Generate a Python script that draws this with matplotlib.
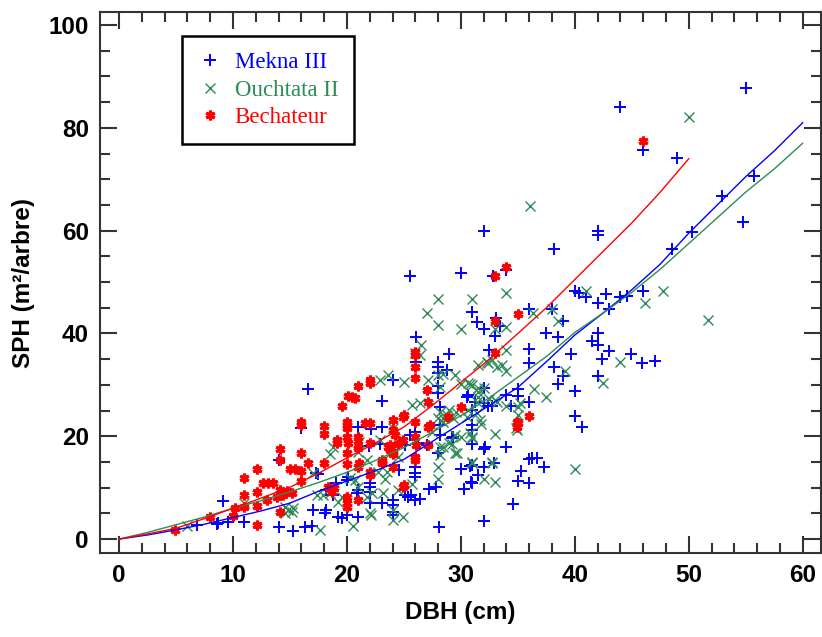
import matplotlib
matplotlib.use("Agg")
import matplotlib.pyplot as plt
from matplotlib.ticker import MultipleLocator

# ---- data (DBH cm, SPH m2/arbre) ----
mekna_dbh = [6.8, 8.6, 8.7, 9.1, 9.6, 11.0, 14.0, 14.0, 15.3, 16.3, 16.9, 16.0, 16.6, 17.0, 17.3,
             17.5, 18.1, 18.2, 18.2, 18.8, 19.0, 19.2, 19.6, 20.0, 20.0, 20.1, 20.9, 21.0, 21.0,
             21.0, 22.0, 22.0, 22.0, 22.0, 22.1, 21.9, 22.9, 23.1, 23.1, 23.1, 24.0, 24.0, 24.0,
             24.0, 24.0, 24.6, 25.1, 25.4, 25.6, 26.0, 26.4, 25.1, 25.5, 26.0, 26.2, 27.0, 26.0,
             26.0, 26.0, 25.5, 26.1, 26.1, 27.2, 27.8, 28.0, 28.1, 28.0, 28.0, 28.0, 28.0, 28.0,
             28.2, 28.2, 28.2, 28.8, 29.0, 29.2, 29.3, 30.0, 30.0, 30.3, 30.5, 30.6, 30.8, 30.9,
             31.0, 31.0, 31.0, 31.0, 31.0, 31.0, 31.0, 31.2, 31.4, 31.5, 32.0, 32.0, 32.0, 32.0,
             32.0, 32.0, 32.0, 32.1, 32.4, 32.5, 32.7, 32.8, 32.9, 33.0, 33.1, 33.4, 34.0, 34.0,
             34.0, 34.4, 34.6, 35.0, 35.0, 35.0, 35.3, 36.0, 36.0, 36.0, 36.0, 36.0, 36.0, 36.2,
             36.7, 37.3, 37.5, 38.2, 38.2, 38.5, 38.5, 39.0, 39.0, 39.7, 40.0, 40.0, 40.0, 40.4,
             40.6, 41.0, 41.5, 42.0, 42.0, 42.0, 42.0, 42.0, 42.0, 42.4, 42.7, 43.0, 43.0, 44.0,
             44.0, 44.6, 44.9, 45.9, 46.0, 46.0, 47.0, 48.5, 49.0, 50.3, 52.9, 54.8, 55.7, 55.0,
             38.0]
mekna_sph = [2.7, 2.9, 3.1, 7.4, 3.3, 3.3, 2.3, 15.4, 1.6, 2.3, 2.5, 21.6, 29.2, 5.6, 12.8,
             12.6, 5.0, 5.6, 9.5, 8.6, 10.9, 4.3, 4.1, 4.7, 11.5, 12.0, 8.9, 9.5, 21.8,
             4.3, 9.1, 10.1, 10.9, 7.0, 21.4, 18.1, 18.5, 7.0, 21.8, 26.8, 4.7, 5.3, 6.6,
             7.6, 31.0, 13.4, 8.6, 8.2, 8.6, 7.6, 7.8, 18.3, 20.2, 20.8, 18.7, 18.3, 12.0,
             12.8, 14.0, 51.2, 39.3, 34.4, 9.7, 10.1, 16.7, 2.3, 28.4, 29.8, 32.3, 33.5, 34.4,
             20.2, 22.2, 25.7, 32.8, 36.0, 19.6, 19.8, 13.6, 51.8, 9.7, 27.6, 28.0, 14.2, 11.1,
             10.9, 14.4, 18.5, 21.2, 22.2, 25.1, 44.2, 26.7, 42.3, 12.5, 3.5, 14.0, 17.5, 26.5,
             29.3, 40.8, 60.0, 17.9, 25.9, 36.8, 25.9, 51.2, 14.8, 39.5, 43.0, 41.4, 17.9, 28.1,
             52.3, 25.9, 6.8, 11.3, 27.8, 29.2, 13.2, 10.9, 15.6, 26.6, 34.3, 37.0, 44.7, 15.8,
             15.8, 14.0, 40.0, 33.5, 56.4, 30.2, 39.3, 31.7, 42.4, 36.0, 24.0, 28.8, 48.2, 47.9,
             21.8, 47.1, 38.5, 31.7, 37.7, 40.0, 45.9, 59.2, 59.9, 35.0, 47.7, 36.6, 44.7, 47.1,
             84.0, 47.3, 36.0, 34.2, 48.2, 75.7, 34.6, 56.4, 74.1, 59.7, 66.7, 61.7, 70.6, 87.7,
             44.7]

ouchtata_dbh = [6.0, 11.0, 14.6, 14.8, 15.3, 15.2, 14.6, 17.0, 17.4, 17.9, 17.6, 18.5, 18.8, 18.5,
                19.2, 19.6, 20.3, 20.7, 20.5, 21.0, 21.0, 21.1, 21.8, 21.8, 22.0, 22.1, 22.2, 22.7,
                22.9, 22.9, 23.2, 23.3, 23.5, 23.6, 23.8, 24.0, 24.0, 24.0, 24.5, 24.5, 24.9, 25.0,
                25.7, 25.7, 26.0, 26.4, 26.4, 26.5, 27.0, 27.1, 27.5, 28.0, 28.0, 28.0, 28.0, 28.0,
                28.0, 28.2, 28.2, 28.2, 28.2, 28.4, 28.4, 28.4, 28.4, 28.8, 29.0, 29.0, 29.2, 29.3,
                29.5, 29.5, 29.5, 29.6, 29.7, 30.0, 30.0, 30.0, 30.5, 30.6, 30.6, 30.8, 30.8, 31.0,
                31.0, 31.0, 31.0, 31.0, 31.0, 31.4, 31.4, 31.5, 31.5, 31.5, 31.5, 31.7, 31.8, 32.0,
                32.0, 32.3, 32.4, 32.5, 32.7, 32.7, 32.7, 33.0, 33.0, 33.0, 33.0, 33.2, 33.2, 33.6,
                34.0, 34.0, 34.0, 34.0, 34.0, 34.8, 34.9, 35.0, 35.0, 35.2, 36.1, 36.3, 36.4, 37.5,
                38.0, 38.5, 39.1, 40.0, 41.0, 42.5, 44.0, 46.2, 47.7, 50.0, 51.7]
ouchtata_sph = [2.5, 7.0, 6.2, 5.6, 6.0, 5.3, 5.1, 12.8, 8.6, 8.6, 1.7, 16.5, 17.9, 9.0,
                7.2, 8.2, 11.9, 11.5, 2.6, 10.1, 16.9, 18.9, 8.2, 15.4, 5.0, 4.7, 8.9, 13.0,
                19.3, 30.9, 8.9, 11.7, 13.0, 31.9, 16.7, 3.7, 5.6, 21.6, 9.5, 16.0, 4.3, 30.5,
                10.7, 26.1, 36.2, 26.5, 35.8, 37.7, 44.0, 31.0, 20.8, 11.7, 14.0, 23.5, 31.9, 41.6,
                46.7, 16.3, 17.9, 24.7, 29.6, 17.9, 22.8, 23.5, 32.1, 24.1, 18.7, 25.1, 18.5, 23.5,
                16.7, 20.2, 31.9, 24.7, 16.7, 19.8, 30.2, 40.8, 23.7, 25.1, 30.4, 20.6, 30.2, 14.8,
                15.0, 19.6, 19.8, 46.7, 30.0, 24.5, 26.7, 27.6, 28.6, 29.4, 33.9, 23.2, 22.4, 11.7,
                29.4, 34.4, 34.2, 27.2, 14.8, 15.0, 34.8, 11.1, 20.5, 27.0, 40.8, 26.7, 33.5, 33.9,
                25.9, 32.7, 36.8, 41.2, 47.9, 21.6, 21.2, 24.1, 25.7, 26.5, 64.8, 44.0, 29.2, 27.7,
                44.7, 42.4, 32.7, 13.6, 48.3, 30.3, 34.4, 45.9, 48.2, 82.1, 42.6]

bechateur_dbh = [4.9, 8.0, 10.0, 10.2, 11.0, 11.0, 11.0, 12.1, 12.1, 12.1, 12.1, 12.6, 13.1, 13.5,
                 13.0, 13.9, 14.1, 14.1, 14.1, 14.1, 14.4, 14.7, 15.2, 15.0, 15.4, 16.0, 16.0, 16.0,
                 16.0, 16.0, 16.6, 18.0, 18.0, 18.0, 18.3, 18.7, 18.9, 19.1, 19.1, 19.6, 20.0, 20.0,
                 20.0, 20.0, 20.0, 20.0, 20.0, 20.0, 20.0, 20.1, 20.1, 20.4, 20.7, 21.0, 21.0, 21.0,
                 21.0, 21.0, 21.0, 21.1, 21.6, 22.0, 22.0, 22.0, 22.0, 22.0, 22.0, 23.1, 23.1, 23.1,
                 23.6, 23.8, 23.8, 24.0, 24.0, 24.0, 24.0, 24.0, 24.2, 24.5, 24.9, 24.9, 24.9, 25.0,
                 25.0, 26.0, 26.0, 26.0, 26.0, 26.0, 26.0, 26.0, 26.0, 26.1, 27.0, 27.1, 27.1, 27.1,
                 27.3, 28.9, 30.0, 33.0, 33.0, 33.0, 34.0, 34.9, 34.9, 35.0, 35.0, 36.0, 46.0]
bechateur_sph = [1.8, 4.3, 4.5, 6.0, 6.2, 8.6, 11.9, 2.7, 6.4, 9.1, 13.6, 10.9, 10.9, 10.9,
                 7.6, 8.2, 5.3, 9.5, 15.4, 17.5, 8.6, 9.3, 8.9, 13.6, 13.6, 13.2, 11.3, 16.7,
                 22.2, 22.8, 14.8, 14.8, 20.4, 22.0, 10.1, 9.1, 9.9, 18.7, 19.3, 25.9, 6.2, 7.0,
                 8.2, 14.6, 16.7, 19.8, 21.6, 22.2, 22.8, 18.7, 27.8, 27.6, 27.4, 7.6, 14.0, 17.7,
                 19.1, 19.8, 29.8, 14.8, 22.6, 12.5, 13.0, 18.7, 22.6, 30.3, 30.9, 14.8, 15.0, 15.4,
                 17.9, 17.3, 18.3, 14.0, 16.5, 16.9, 21.2, 23.2, 20.2, 18.5, 10.1, 19.3, 23.7, 10.5,
                 24.1, 15.4, 16.0, 19.8, 22.8, 31.3, 33.5, 35.8, 36.4, 18.3, 29.0, 26.7, 18.3, 21.8,
                 22.2, 23.7, 25.7, 36.2, 42.4, 51.2, 52.9, 22.8, 21.8, 43.8, 22.6, 23.9, 77.4]

# fitted curves
fit_dbh = [0, 2.5, 5, 7.5, 10, 12.5, 15, 17.5, 20, 22.5, 25, 27.5, 30, 32.5, 35, 37.5,
           40, 42.5, 45, 47.5, 50, 52.5, 55, 57.5, 60]
fit_mekna = [0, 0.8, 1.8, 2.9, 4.2, 5.5, 7.0, 9.3, 11.3, 13.3, 15.5, 19.0, 22.5, 26.0, 29.5, 34.5,
             39.7, 44.0, 48.5, 53.5, 59.5, 65.0, 70.5, 75.5, 81.0]
fit_ouchtata = [0, 1.3, 2.8, 4.3, 6.0, 7.5, 9.2, 11.0, 13.0, 15.3, 17.8, 20.8, 24.0, 27.5, 31.5, 35.5,
                40.2, 44.0, 48.0, 52.5, 57.5, 62.5, 67.5, 72.0, 77.0]
fit_bech_dbh = [0, 2.5, 5, 7.5, 10, 12.5, 15, 17.5, 20, 22.5, 25, 27.5, 30, 32.5, 35, 37.5,
                40, 42.5, 45, 47.5, 50]
fit_bechateur = [0, 1.0, 2.1, 4.0, 6.0, 8.0, 10.1, 12.8, 15.8, 18.7, 21.8, 26.0, 30.5, 35.0, 40.0, 45.0,
                 50.5, 56.0, 61.5, 67.5, 74.0]

blue = "#0000FF"
green = "#2E8B57"
red = "#FF0000"

plt.rcParams["font.family"] = ["Liberation Sans", "DejaVu Sans"]

fig = plt.figure(figsize=(8.22, 6.37), dpi=100)
ax = fig.add_axes([0.1217, 0.1319, 0.877, 0.849])

ax.plot(mekna_dbh, mekna_sph, linestyle="none", marker="+", color=blue,
        markersize=8, markeredgewidth=1.4, label="Mekna III")
ax.plot(ouchtata_dbh, ouchtata_sph, linestyle="none", marker="x", color=green,
        markersize=6.5, markeredgewidth=1.0, label="Ouchtata II")
ax.plot(bechateur_dbh, bechateur_sph, linestyle="none", marker=(6, 2, 0), color=red,
        markersize=7, markeredgewidth=2.2, label="Bechateur")

ax.plot(fit_dbh, fit_mekna, color=blue, linewidth=1)
ax.plot(fit_dbh, fit_ouchtata, color=green, linewidth=1)
ax.plot(fit_bech_dbh, fit_bechateur, color=red, linewidth=1)

ax.set_xlim(-1.67, 61.6)
ax.set_ylim(-2.7, 102.5)
ax.xaxis.set_major_locator(MultipleLocator(10))
ax.xaxis.set_minor_locator(MultipleLocator(2))
ax.yaxis.set_major_locator(MultipleLocator(20))
ax.yaxis.set_minor_locator(MultipleLocator(5))
ax.tick_params(which="both", direction="in", top=True, right=True, width=1.5, color="#333333")
ax.tick_params(which="major", length=12, labelsize=17.5, pad=8)
ax.tick_params(which="minor", length=7)
for lab in ax.get_xticklabels() + ax.get_yticklabels():
    lab.set_fontweight("bold")
for sp in ax.spines.values():
    sp.set_linewidth(1.5)
    sp.set_color("#333333")

ax.set_xlabel("DBH (cm)", fontsize=17.5, fontweight="bold", labelpad=10)
ax.set_ylabel("SPH (m²/arbre)", fontsize=17.5, fontweight="bold", labelpad=10)

leg = ax.legend(loc="upper left", bbox_to_anchor=(182 / 822, 1 - 36 / 637),
                bbox_transform=fig.transFigure, borderaxespad=0, fancybox=False,
                edgecolor="black", framealpha=1, labelcolor="linecolor",
                prop={"family": "Liberation Serif", "size": 16.5},
                handlelength=1.0, handletextpad=0.6, borderpad=0.7, labelspacing=0.28)
leg.get_frame().set_linewidth(1.8)

fig.savefig("out.png", dpi=100)
